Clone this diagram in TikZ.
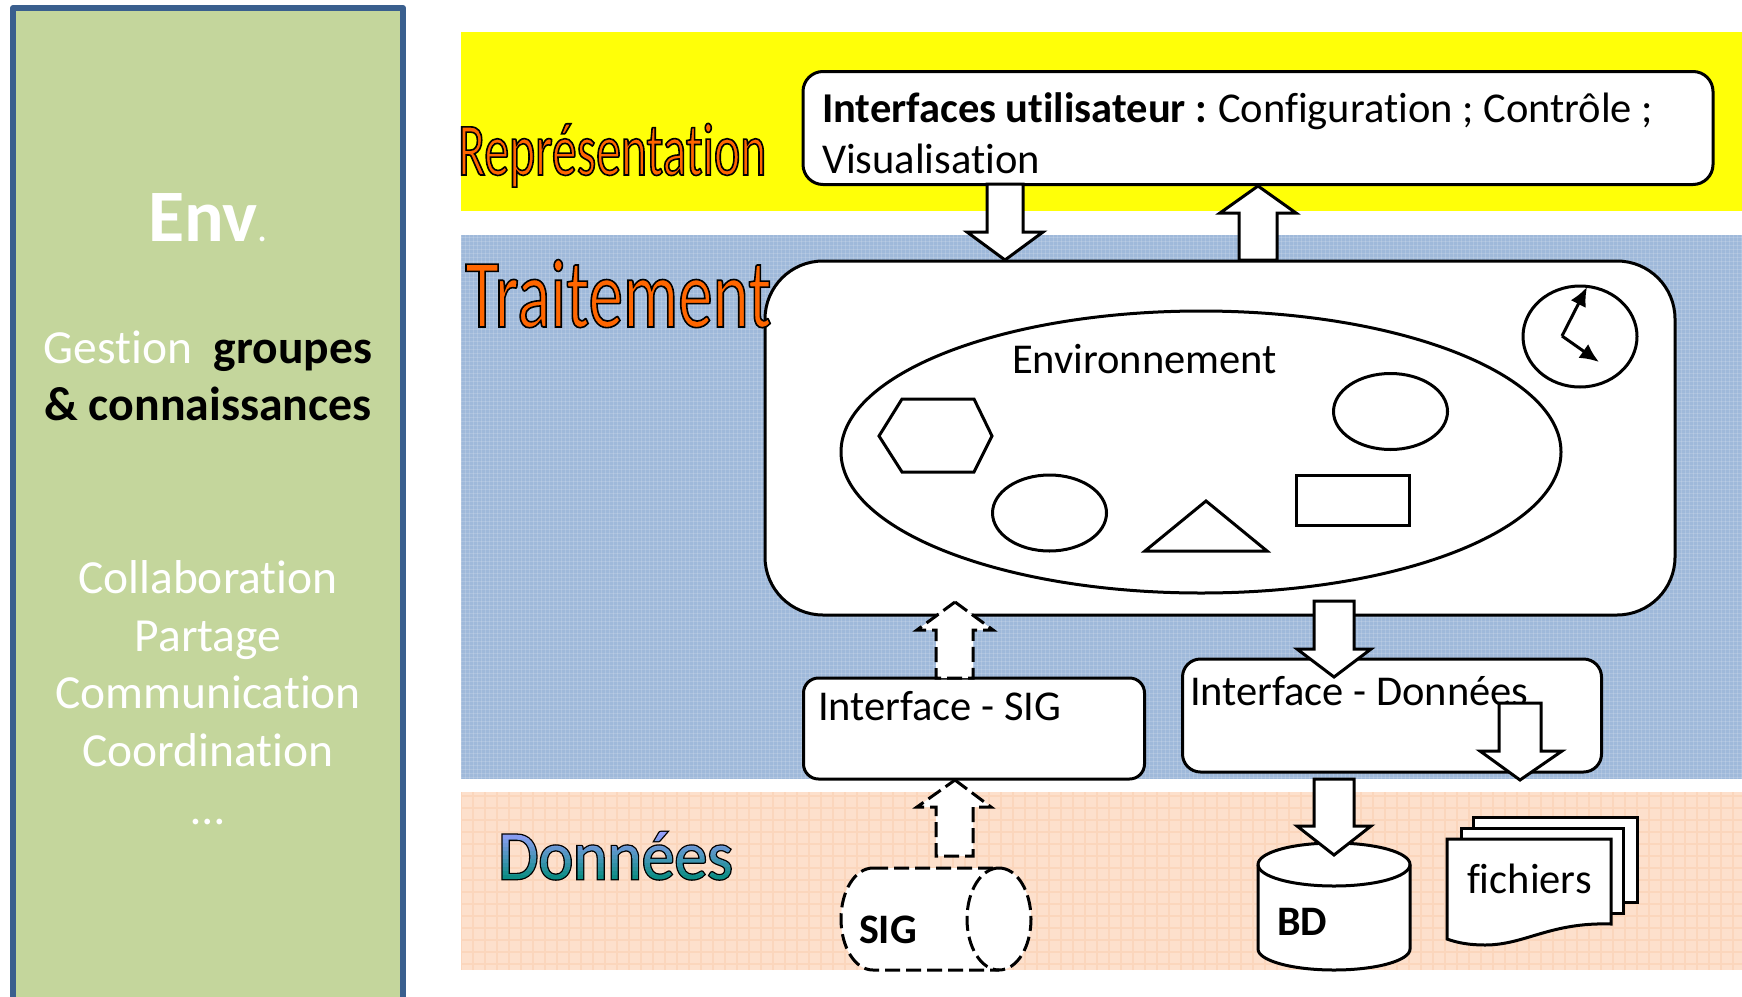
\documentclass[tikz,border=0pt]{standalone}
\usepackage{fontspec}
\setmainfont{Carlito}[RawFeature={-liga}]
\usetikzlibrary{shapes.geometric,arrows.meta}
\newfontfamily\narrowA[FakeStretch=0.663,RawFeature={-liga}]{Carlito}
\newfontfamily\narrowB[FakeStretch=0.705,RawFeature={-liga}]{Carlito}
\newfontfamily\narrowC[FakeStretch=0.95,RawFeature={-liga}]{Carlito}
\newcommand\outlined[3]{\special{pdf:code q 2 Tr #1 w 0 0 0 RG #2 rg}#3\special{pdf:code 0 Tr Q}}
\newcommand\gradtext[1]{\special{pdf:code q 6 Tr 2.6 w 0 0 0 RG 0 0 0 rg}#1\special{pdf:literal .05 .55 .52 rg -245 -8 255 12.2 re f .10 .56 .56 rg -245 4 255 4.2 re f .15 .56 .60 rg -245 8 255 4.2 re f .19 .57 .65 rg -245 12 255 4.2 re f .24 .58 .69 rg -245 16 255 4.2 re f .29 .58 .73 rg -245 20 255 4.2 re f .34 .59 .77 rg -245 24 255 4.2 re f .39 .59 .81 rg -245 28 255 4.2 re f .44 .60 .85 rg -245 32 255 4.2 re f .48 .61 .90 rg -245 36 255 4.2 re f .53 .61 .94 rg -245 40 255 4.2 re f .58 .62 .98 rg -245 44 255 20 re f}\special{pdf:code 0 Tr Q}}
\definecolor{panelfill}{HTML}{C4D69C}
\definecolor{panelline}{HTML}{3A5F8E}
\definecolor{bandyellow}{HTML}{FFFF08}
\definecolor{bandblue}{HTML}{9FB9DA}
\definecolor{bandpeach}{HTML}{FDE0CC}
\definecolor{gridpeach}{HTML}{FBD6BC}
\tikzset{
  ln/.style={draw=black,line width=3pt,fill=white},
  dashln/.style={ln,dash pattern=on 15pt off 6pt},
  rbox/.style={ln,rectangle,inner sep=0pt,outer sep=0pt,rounded corners=#1},
  oval/.style={ln,ellipse,inner sep=0pt,outer sep=0pt},
  txt/.style={anchor=base west,inner sep=0pt,outer sep=0pt,font=\fontsize{42.5}{42.5}\selectfont},
  left/.style={anchor=base,inner sep=0pt,outer sep=0pt,text=white,font=\fontsize{47.5}{47.5}\selectfont},
  hand/.style={draw=black,line width=3pt,-{Latex[length=19pt,width=17pt]}}
}
\newcommand\upblock[8][ln]{%
  \draw[#1] (#2,#3) -- (#6,#4) -- (#8,#4) -- (#8,\bottomY) -- (#7,\bottomY) -- (#7,#4) -- (#5,#4) -- cycle;}
\newcommand\downblock[7]{%
  \draw[ln] (#1,#2) -- (#5,#3) -- (#7,#3) -- (#7,\bottomY) -- (#6,\bottomY) -- (#6,#3) -- (#4,#3) -- cycle;}
\begin{document}
\begin{tikzpicture}[x=1pt,y=-1pt]
\useasboundingbox (0,0) rectangle (1742,996);
% panel
\fill[panelfill] (13,8) rectangle (403,1010);
\draw[panelline,line width=6pt,line join=round] (13,1010) -- (13,8) -- (403,8) -- (403,1010);
% bands
\fill[bandyellow] (461,32) rectangle (1742,211);
\fill[bandblue] (461,235) rectangle (1742,779);
\fill[bandpeach] (461,792) rectangle (1742,970);
\begin{scope}
\clip (461,235) rectangle (1742,779);
\foreach \g in {461,465,...,1742} \draw[white,opacity=.15,line width=1pt] (\g,235) -- (\g,779);
\foreach \g in {237,241,...,779} \draw[white,opacity=.15,line width=1pt] (461,\g) -- (1742,\g);
\end{scope}
\begin{scope}
\clip (461,792) rectangle (1742,970);
\foreach \g in {461,473,...,1742} \draw[gridpeach,line width=1.2pt] (\g,792) -- (\g,970);
\foreach \g in {796,808,...,970} \draw[gridpeach,line width=1.2pt] (461,\g) -- (1742,\g);
\end{scope}
% left panel text
\node[left,font=\bfseries\fontsize{74}{74}\selectfont] (env) at (208,241) {Env\fontsize{40}{40}\selectfont\mdseries.};
\node[left] (gest) at (208,363) {Gestion\ \ \textcolor{black}{\bfseries groupes}};
\node[left,text=black,font=\bfseries\fontsize{47.8}{47.8}\selectfont] (conn) at (208,420) {\& connaissances};
\node[left] (coll) at (208,593) {Collaboration};
\node[left] (part) at (208,651) {Partage};
\node[left] (comm) at (208,708) {Communication};
\node[left] (coor) at (208,766) {Coordination};
\node[left] (dots) at (208,824) {…};
% main box
\node[rbox=58pt,minimum width=910pt,minimum height=354pt] (main) at (1220,438) {};
\node[oval,minimum width=720pt,minimum height=282pt] (bigell) at (1201,452) {};
\node[oval,minimum width=114pt,minimum height=101pt] (clock) at (1580,336.5) {};
\coordinate (hc) at (1562,336);
\coordinate (h1) at (1587,287);
\coordinate (h2) at (1599,362);
\draw[hand] (hc) -- (h1);
\draw[hand] (hc) -- (h2);
\node[oval,minimum width=114pt,minimum height=76pt] (el1) at (1390.5,411.5) {};
\node[oval,minimum width=114pt,minimum height=76pt] (el2) at (1049.5,513) {};
\node[ln,rectangle,inner sep=0pt,outer sep=0pt,minimum width=113pt,minimum height=50pt] (rc) at (1352.5,500.5) {};
\draw[ln,line join=miter] (1145,551) -- (1206,501) -- (1267,551) -- cycle;
\draw[ln] (879,436) -- (902,399) -- (974,399) -- (992,436) -- (974,472) -- (902,472) -- cycle;
\node[txt] (envt) at (1012,373) {Environnement};
% interfaces box
\node[rbox=20pt,minimum width=910pt,minimum height=113pt] (ui) at (1258,128) {};
\node[txt] (ui1) at (822,122) {\textbf{Interfaces utilisateur :}\hspace{-2pt} Configuration ; Contrôle ;};
\node[txt] (ui2) at (822,173) {Visualisation};
% top arrows
\def\bottomY{184}\downblock{1005}{260}{232}{967}{1043}{987}{1023}
\def\bottomY{260}\upblock{1258}{186}{213}{1220}{1296}{1239}{1277}
% interface boxes
\node[rbox=15pt,minimum width=341pt,minimum height=101pt] (isig) at (974,728.5) {};
\node[txt] (isigt) at (818,720) {Interface - SIG};
\node[rbox=18pt,minimum width=419pt,minimum height=113pt] (idon) at (1392,715.5) {};
\node[txt] (idont) at (1190,705) {Interface - Données};
% dashed arrows
\def\bottomY{678}\upblock[dashln]{955}{602}{630}{917}{993}{936}{973}
\def\bottomY{856}\upblock[dashln]{955}{780}{807}{917}{991}{936}{973}
% solid down arrows
\def\bottomY{601}\downblock{1334}{677}{649}{1297}{1371}{1314}{1354}
\def\bottomY{703}\downblock{1520}{780}{751}{1480}{1562}{1499}{1541}
% SIG cylinder
\draw[dashln] (873,868) -- (999,868) .. controls (1017,868) and (1031,891) .. (1031,919) .. controls (1031,947) and (1017,970) .. (999,970) -- (873,970) .. controls (855,970) and (841,947) .. (841,919) .. controls (841,891) and (855,868) .. (873,868) -- cycle;
\draw[dashln,fill=none] (999,868) .. controls (981,868) and (967,891) .. (967,919) .. controls (967,947) and (981,970) .. (999,970);
\node[txt,font=\bfseries\fontsize{42}{42}\selectfont] (sigt) at (859,943) {SIG};
% BD
\draw[ln] (1258,864.5) .. controls (1258,852.5) and (1292,843) .. (1334,843) .. controls (1376,843) and (1410,852.5) .. (1410,864.5) -- (1410,949) .. controls (1410,960.6) and (1376,970) .. (1334,970) .. controls (1292,970) and (1258,960.6) .. (1258,949) -- cycle;
\draw[ln,fill=none] (1258,864.5) .. controls (1258,876.5) and (1292,886) .. (1334,886) .. controls (1376,886) and (1410,876.5) .. (1410,864.5);
\node[txt,font=\bfseries\fontsize{42}{42}\selectfont] (bdt) at (1277,935) {BD};
\def\bottomY{779}\downblock{1334}{855}{826}{1297}{1371}{1314}{1354}
% fichiers
\draw[ln] (1473,817) rectangle (1637,902);
\draw[ln] (1461,828) rectangle (1623,913);
\draw[ln] (1447,839) -- (1611,839) -- (1611,924) .. controls (1550,922) and (1525,945) .. (1485,945) .. controls (1470,945) and (1458,943) .. (1447,939) -- cycle;
\node[txt] (fich) at (1467,893) {fichiers};
% layer titles
\node[anchor=base west,inner sep=0pt,font=\narrowA\fontsize{75}{75}\selectfont] (repr) at (458,175) {\outlined{1.6}{1 .4 0}{Représentation}};
\node[anchor=base west,inner sep=0pt,font=\narrowB\fontsize{98}{98}\selectfont] (trai) at (465,327) {\outlined{1.6}{1 .4 0}{Traitement}};
\node[anchor=base west,inner sep=0pt,font=\narrowC\fontsize{69}{69}\selectfont] (donn) at (498,879) {\gradtext{Données}};
\end{tikzpicture}
\end{document}
